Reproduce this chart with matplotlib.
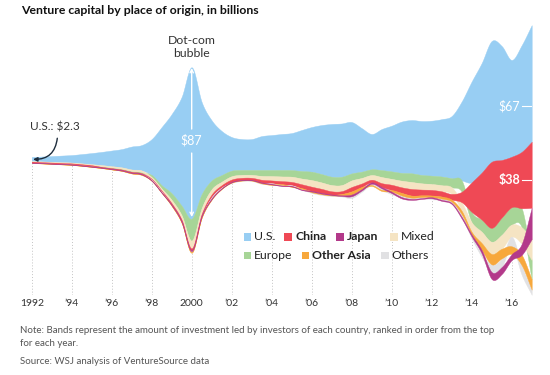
import numpy as np
import matplotlib
matplotlib.use('Agg')
import matplotlib.pyplot as plt
from matplotlib.patches import Rectangle

plt.rcParams['font.family'] = ['Lato', 'DejaVu Sans']

# half-year sample points, values in $ billions
years = np.arange(1992, 2017.01, 0.5)
us = [2.3, 2.8, 3.3, 3.8, 4.3, 5.3, 6.4, 7.6, 9.0, 10.5,
      13.2, 14.6, 20.7, 33.5, 45.6, 62.7, 87.0, 52.8, 34.5, 25.3,
      19.3, 17.8, 17.8, 19.5, 20.1, 20.7, 21.3, 23.6, 25.7, 28.2,
      30.3, 30.6, 29.5, 25.0, 20.3, 23.6, 26.3, 29.5, 30.6, 31.0,
      31.6, 33.0, 35.8, 45.4, 58.0, 63.0, 69.4, 65.5, 55.6, 61.3, 67.0]
china = [0.3, 0.3, 0.3, 0.3, 0.3, 0.35, 0.35, 0.35, 0.4, 0.4,
         0.45, 0.5, 0.6, 0.7, 0.8, 0.9, 1.0, 1.0, 1.5, 1.3,
         1.3, 1.2, 1.2, 1.5, 1.6, 1.7, 1.9, 2.2, 2.4, 2.3,
         1.8, 1.6, 2.5, 2.0, 1.5, 2.2, 3.0, 3.2, 3.8, 3.3,
         3.2, 3.0, 3.3, 6.0, 17.0, 27.0, 38.0, 33.0, 29.0, 32.4, 38.0]
japan = [0.1, 0.1, 0.1, 0.1, 0.15, 0.15, 0.15, 0.15, 0.15, 0.2,
         0.2, 0.2, 0.2, 0.25, 0.3, 0.4, 0.6, 0.5, 0.5, 0.3,
         0.3, 0.2, 0.2, 0.3, 0.3, 0.3, 0.3, 0.3, 0.4, 0.4,
         0.3, 0.4, 1.0, 0.8, 0.8, 0.8, 0.8, 0.8, 0.6, 0.5,
         0.6, 0.6, 0.6, 1.0, 1.2, 2.0, 4.0, 4.0, 3.4, 6.3, 18.0]
mixed = [0.4, 0.45, 0.45, 0.5, 0.5, 0.55, 0.6, 0.65, 0.7, 0.75,
         0.8, 0.9, 1.0, 1.2, 2.0, 2.6, 4.5, 3.4, 3.0, 2.0,
         1.9, 1.7, 1.7, 2.2, 2.5, 2.7, 3.0, 3.3, 3.8, 3.7,
         3.6, 3.5, 3.8, 3.2, 2.7, 3.5, 3.4, 3.8, 4.0, 3.6,
         3.4, 3.5, 3.8, 5.0, 5.5, 6.5, 7.0, 8.0, 7.0, 9.5, 12.0]
europe = [0.2, 0.2, 0.25, 0.25, 0.3, 0.3, 0.35, 0.4, 0.45, 0.5,
          0.55, 0.7, 1.2, 1.9, 3.8, 5.5, 12.6, 8.0, 5.0, 3.8,
          3.2, 2.8, 2.8, 3.4, 3.5, 3.7, 3.8, 4.3, 4.8, 4.8,
          4.8, 4.8, 4.0, 3.6, 3.3, 4.0, 4.3, 4.5, 5.0, 4.8,
          4.8, 5.0, 5.2, 6.5, 6.0, 7.0, 8.0, 10.0, 10.0, 11.0, 11.0]
other_asia = [0.05, 0.05, 0.05, 0.05, 0.05, 0.05, 0.05, 0.05, 0.05, 0.05,
              0.1, 0.1, 0.1, 0.1, 0.1, 0.2, 0.3, 0.3, 0.3, 0.2,
              0.2, 0.2, 0.2, 0.3, 0.3, 0.4, 0.3, 0.4, 0.4, 0.4,
              0.3, 0.8, 1.8, 1.2, 0.6, 0.7, 1.0, 1.5, 1.2, 1.0,
              1.0, 1.2, 1.2, 2.0, 1.5, 4.0, 6.0, 5.5, 4.5, 6.0, 6.0]
others = [0.1, 0.1, 0.1, 0.1, 0.1, 0.1, 0.1, 0.15, 0.15, 0.15,
          0.2, 0.2, 0.3, 0.3, 0.3, 0.4, 0.6, 0.5, 0.7, 0.4,
          0.2, 0.2, 0.2, 0.3, 0.4, 0.4, 0.4, 0.4, 0.4, 0.4,
          0.3, 0.3, 1.0, 0.8, 0.7, 0.8, 0.7, 0.9, 0.7, 0.6,
          0.6, 0.7, 0.7, 1.4, 1.1, 2.0, 4.4, 5.0, 5.5, 5.5, 3.0]

names = ['U.S.', 'China', 'Japan', 'Mixed', 'Europe', 'Other Asia', 'Others']
colors = ['#98cef3', '#ef4955', '#b3398a', '#f5e4c3', '#a7d597', '#f7a83c', '#e1e1e3']
bold = [False, True, True, False, False, True, False]
tick_years = np.arange(1992, 2017, 2)
tick_labels = ['1992', '’94', '’96', '’98', '2000', '’02', '’04', '’06',
               '’08', '’10', '’12', '’14', '’16']


def catmull(x, y, n=16):
    p = np.concatenate([[2 * y[0] - y[1]], y, [2 * y[-1] - y[-2]]])
    s = np.linspace(0, 1, n, endpoint=False)
    xo, yo = [], []
    for i in range(len(y) - 1):
        p0, p1, p2, p3 = p[i:i + 4]
        yo.append(0.5 * (2 * p1 + (p2 - p0) * s + (2 * p0 - 5 * p1 + 4 * p2 - p3) * s ** 2
                         + (3 * p1 - p0 - 3 * p2 + p3) * s ** 3))
        xo.append(x[i] + (x[i + 1] - x[i]) * s)
    xo.append([x[-1]])
    yo.append([y[-1]])
    return np.concatenate(xo), np.concatenate(yo)


# ranked silhouette stacking: biggest band on top each period
vals = np.array([us, china, japan, mixed, europe, other_asia, others])
total = vals.sum(0)
upper = np.zeros_like(vals)
lower = np.zeros_like(vals)
for k in range(vals.shape[1]):
    y = total[k] / 2
    for i in np.argsort(-vals[:, k], kind='stable'):
        upper[i, k] = y
        y -= vals[i, k]
        lower[i, k] = y

W, H = 550, 375
fig = plt.figure(figsize=(W / 100, H / 100), dpi=100)
ax = fig.add_axes([31.7 / W, (H - 295) / H, 500 / W, 275 / H])
ax.set_xlim(1992, 2017)
ax.set_ylim(-(295 - 160) / 1.74, (160 - 20) / 1.74)

ax.vlines(tick_years, -77.6, 0, colors='#c4c4c4', linestyles=(0, (1, 2)), lw=0.7, zorder=0)

for i in [0, 4, 3, 1, 6, 5, 2]:
    tx, up = catmull(years, upper[i])
    _, lo = catmull(years, lower[i])
    ax.fill_between(tx, lo, up, color=colors[i], lw=0.3, zorder=2)

ax.set_xticks(tick_years)
ax.set_xticklabels(tick_labels, fontsize=7.5, color='#333333')
ax.tick_params(axis='x', length=0, pad=3)
ax.set_yticks([])
for sp in ax.spines.values():
    sp.set_visible(False)

# annotations
ax.text(1993.17, 19.0, 'U.S.: $2.3', fontsize=8.5, color='#333333', ha='center', va='center')
ax.annotate('', xy=(1992.07, 0.4), xytext=(1993.28, 12.5),
            arrowprops=dict(arrowstyle='-|>', color='#1e2d3d', lw=1,
                            connectionstyle='arc3,rad=-0.45', mutation_scale=6,
                            shrinkA=0, shrinkB=0))
ax.text(2000, 64.9, 'Dot-com\nbubble', fontsize=8.8, color='#333333', ha='center',
        va='center', linespacing=1.2)
ax.annotate('', xy=(2000, 52.9), xytext=(2000, 17.8),
            arrowprops=dict(arrowstyle='->', color='white', lw=1, mutation_scale=6,
                            shrinkA=0, shrinkB=0), zorder=5)
ax.annotate('', xy=(2000, -32.8), xytext=(2000, 4.0),
            arrowprops=dict(arrowstyle='->', color='white', lw=1, mutation_scale=6,
                            shrinkA=0, shrinkB=0), zorder=5)
ax.text(2000, 11.5, '$87', fontsize=9, color='white', ha='center', va='center', zorder=5)
ax.text(2016.44, 31.0, '$67', fontsize=9, color='white', ha='right', va='center', zorder=5)
ax.plot([2016.52, 2017], [31.0, 31.0], color='white', lw=0.8, zorder=5)
ax.text(2016.42, -11.5, '$38', fontsize=9, color='white', ha='right', va='center',
        fontweight='bold', zorder=5)
ax.plot([2016.52, 2017], [-11.5, -11.5], color='white', lw=0.8, zorder=5)

# legend
legend_pos = [(243.5, 237), (284.5, 237), (336, 237), (390, 237),
              (243.5, 255.5), (301.5, 255.5), (381, 255.5)]
for (lx, ly), i in zip(legend_pos, range(len(names))):
    fig.add_artist(Rectangle((lx / W, 1 - (ly + 3.8) / H), 7.6 / W, 7.6 / H,
                             transform=fig.transFigure, color=colors[i], lw=0))
    fig.text((lx + 10.5) / W, 1 - ly / H, names[i], fontsize=8.8, color='#222222',
             ha='left', va='center', fontweight='bold' if bold[i] else 'normal')

fig.text(21 / W, 1 - 10.5 / H, 'Venture capital by place of origin, in billions',
         fontsize=8.8, fontweight='bold', color='#111111', ha='left', va='center')
fig.text(20 / W, 1 - 330.5 / H,
         'Note: Bands represent the amount of investment led by investors of each country, '
         'ranked in order from the top', fontsize=7.0, color='#555555', ha='left', va='center')
fig.text(20 / W, 1 - 344 / H, 'for each year.', fontsize=7.0, color='#555555',
         ha='left', va='center')
fig.text(20 / W, 1 - 361.5 / H, 'Source: WSJ analysis of VentureSource data', fontsize=7.0,
         color='#555555', ha='left', va='center')

fig.savefig('out.png', dpi=100, facecolor='white')
